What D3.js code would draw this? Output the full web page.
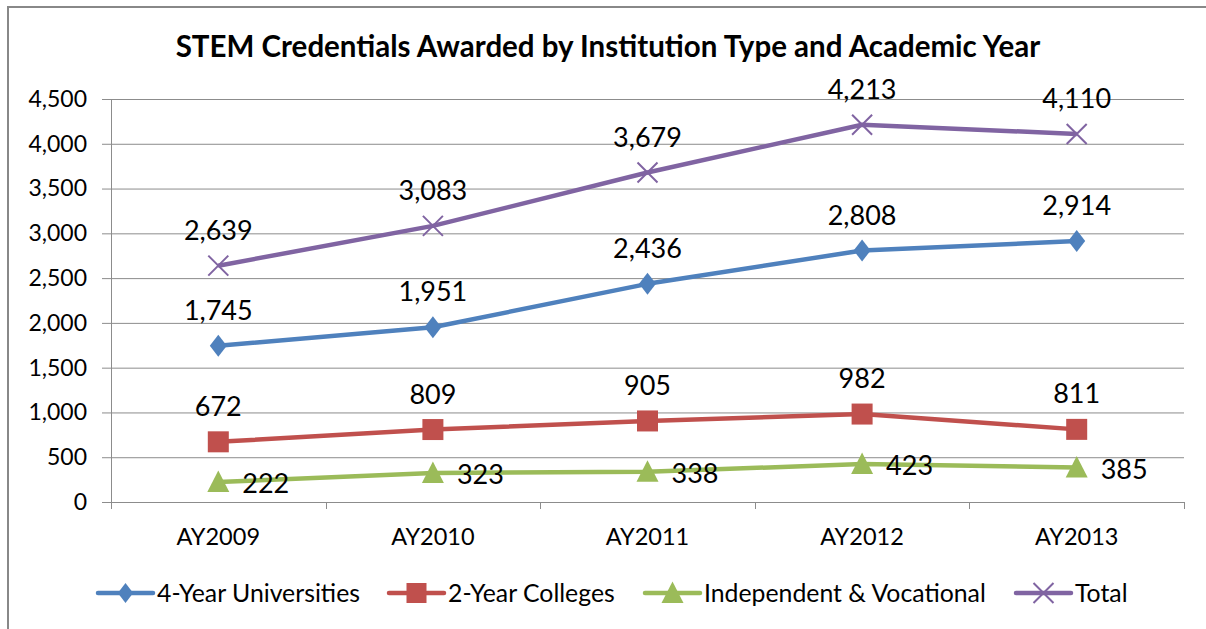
<!DOCTYPE html>
<html>
<head>
<meta charset="utf-8">
<script src="https://cdn.jsdelivr.net/npm/d3@7"></script>
<style>
body { margin: 0; background: #fff; }
svg { font-family: "Lato", "Open Sans", sans-serif; }
</style>
</head>
<body>
<svg width="1206" height="629"></svg>
<script>
var years = ["AY2009", "AY2010", "AY2011", "AY2012", "AY2013"];
var fourYear = [1745, 1951, 2436, 2808, 2914];
var twoYear = [672, 809, 905, 982, 811];
var indepVoc = [222, 323, 338, 423, 385];
var total = [2639, 3083, 3679, 4213, 4110];
var yTicks = [0, 500, 1000, 1500, 2000, 2500, 3000, 3500, 4000, 4500];

var series = [
    {name: "4-Year Universities", values: fourYear, color: "#4F81BD", marker: "diamond", label: "above"},
    {name: "2-Year Colleges", values: twoYear, color: "#C0504D", marker: "square", label: "above"},
    {name: "Independent & Vocational", values: indepVoc, color: "#9BBB59", marker: "triangle", label: "right"},
    {name: "Total", values: total, color: "#8064A2", marker: "x", label: "above"}
];

var svg = d3.select("svg"),
    margin = {top: 99, right: 22, bottom: 127, left: 111},
    width = 1206 - margin.left - margin.right,
    height = 629 - margin.top - margin.bottom;

// chart frame
svg.append("rect")
    .attr("x", 8).attr("y", 7)
    .attr("width", 1206).attr("height", 640)
    .attr("fill", "none")
    .attr("stroke", "#888")
    .attr("stroke-width", 2);

svg.append("text")
    .attr("x", 608).attr("y", 57)
    .attr("text-anchor", "middle")
    .attr("font-size", 29.5)
    .attr("font-weight", "bold")
    .attr("fill", "#000")
    .text("STEM Credentials Awarded by Institution Type and Academic Year");

var x = d3.scaleBand().domain(years).range([0, width]);
var y = d3.scaleLinear().domain([0, 4500]).range([height, 0]);

var g = svg.append("g")
    .attr("transform", "translate(" + margin.left + "," + margin.top + ")");

// gridlines
g.append("g").selectAll("line")
    .data(yTicks.filter(function(d) { return d > 0; }))
    .enter().append("line")
    .attr("x1", 0).attr("x2", width)
    .attr("y1", function(d) { return y(d) + 0.5; })
    .attr("y2", function(d) { return y(d) + 0.5; })
    .attr("stroke", "#8c8c8c")
    .attr("stroke-width", 1);

var yAxis = d3.axisLeft(y).tickValues(yTicks).tickSize(9).tickPadding(15)
    .tickFormat(d3.format(","));
var yg = g.append("g").attr("class", "axis").call(yAxis);
yg.select(".domain").attr("stroke", "#8c8c8c").attr("d", "M0.5,0V" + height);

// x axis with ticks between categories
var xg = g.append("g").attr("transform", "translate(0," + height + ")");
xg.append("line")
    .attr("x1", 0).attr("x2", width)
    .attr("y1", 0.5).attr("y2", 0.5)
    .attr("stroke", "#8c8c8c");
var bounds = years.map(function(d) { return x(d); }).concat([width]);
xg.selectAll("line.tick")
    .data(bounds)
    .enter().append("line")
    .attr("class", "tick")
    .attr("x1", function(d) { return Math.round(d) + 0.5; })
    .attr("x2", function(d) { return Math.round(d) + 0.5; })
    .attr("y1", 0).attr("y2", 7)
    .attr("stroke", "#8c8c8c");
xg.selectAll("text")
    .data(years)
    .enter().append("text")
    .attr("x", function(d) { return x(d) + x.bandwidth() / 2; })
    .attr("y", 43)
    .attr("text-anchor", "middle")
    .attr("font-size", 23.5)
    .attr("fill", "#000")
    .text(function(d) { return d; });

yg.selectAll(".tick line").attr("stroke", "#8c8c8c");
yg.selectAll(".tick text").attr("font-size", 23).attr("fill", "#000")
    .attr("font-family", "Lato, 'Open Sans', sans-serif");

function drawMarker(sel, type, color, s) {
    if (type === "diamond") {
        sel.append("path").attr("d", "M0," + (-s * 1.1) + "L" + (s * 0.85) + ",0L0," + (s * 1.1) + "L" + (-s * 0.85) + ",0Z")
            .attr("fill", color);
    } else if (type === "square") {
        sel.append("rect").attr("x", -s).attr("y", -s).attr("width", 2 * s).attr("height", 2 * s)
            .attr("fill", color);
    } else if (type === "triangle") {
        sel.append("path").attr("d", "M0," + (-s * 1.15) + "L" + (s * 1.1) + "," + s + "L" + (-s * 1.1) + "," + s + "Z")
            .attr("fill", color);
    } else {
        sel.append("path").attr("d", "M" + (-s) + "," + (-s) + "L" + s + "," + s + "M" + s + "," + (-s) + "L" + (-s) + "," + s)
            .attr("stroke", color).attr("stroke-width", 2).attr("fill", "none");
    }
}

var line = d3.line()
    .x(function(d, i) { return x(years[i]) + x.bandwidth() / 2; })
    .y(function(d) { return y(d); });

var fmt = d3.format(",");
var markerSize = {diamond: 10, square: 10.5, triangle: 10, x: 10};

series.forEach(function(s) {
    g.append("path")
        .datum(s.values)
        .attr("d", line)
        .attr("fill", "none")
        .attr("stroke", s.color)
        .attr("stroke-width", 4.5)
        .attr("stroke-linejoin", "round");
    s.values.forEach(function(v, i) {
        var px = x(years[i]) + x.bandwidth() / 2, py = y(v);
        var m = g.append("g").attr("transform", "translate(" + px + "," + py + ")");
        drawMarker(m, s.marker, s.color, markerSize[s.marker]);
        var t = g.append("text")
            .attr("font-size", 27)
            .attr("fill", "#000")
            .text(fmt(v));
        if (s.label === "above") {
            t.attr("x", px).attr("y", py - 26).attr("text-anchor", "middle");
        } else {
            t.attr("x", px + 24).attr("y", py + 11).attr("text-anchor", "start");
        }
    });
});

// legend
var legendX = [98, 389, 645, 1016];
var legend = svg.append("g").attr("transform", "translate(0,593)");
series.forEach(function(s, i) {
    var lg = legend.append("g").attr("transform", "translate(" + legendX[i] + ",0)");
    lg.append("line").attr("x1", 0).attr("x2", 55).attr("y1", 0).attr("y2", 0)
        .attr("stroke", s.color).attr("stroke-width", 4.5).attr("stroke-linecap", "round");
    var m = lg.append("g").attr("transform", "translate(27.5,0)");
    drawMarker(m, s.marker, s.color, s.marker === "diamond" ? 9 : 10);
    lg.append("text").attr("x", 59).attr("y", 9)
        .attr("font-size", 24.8).attr("fill", "#000")
        .text(s.name);
});
</script>
</body>
</html>
